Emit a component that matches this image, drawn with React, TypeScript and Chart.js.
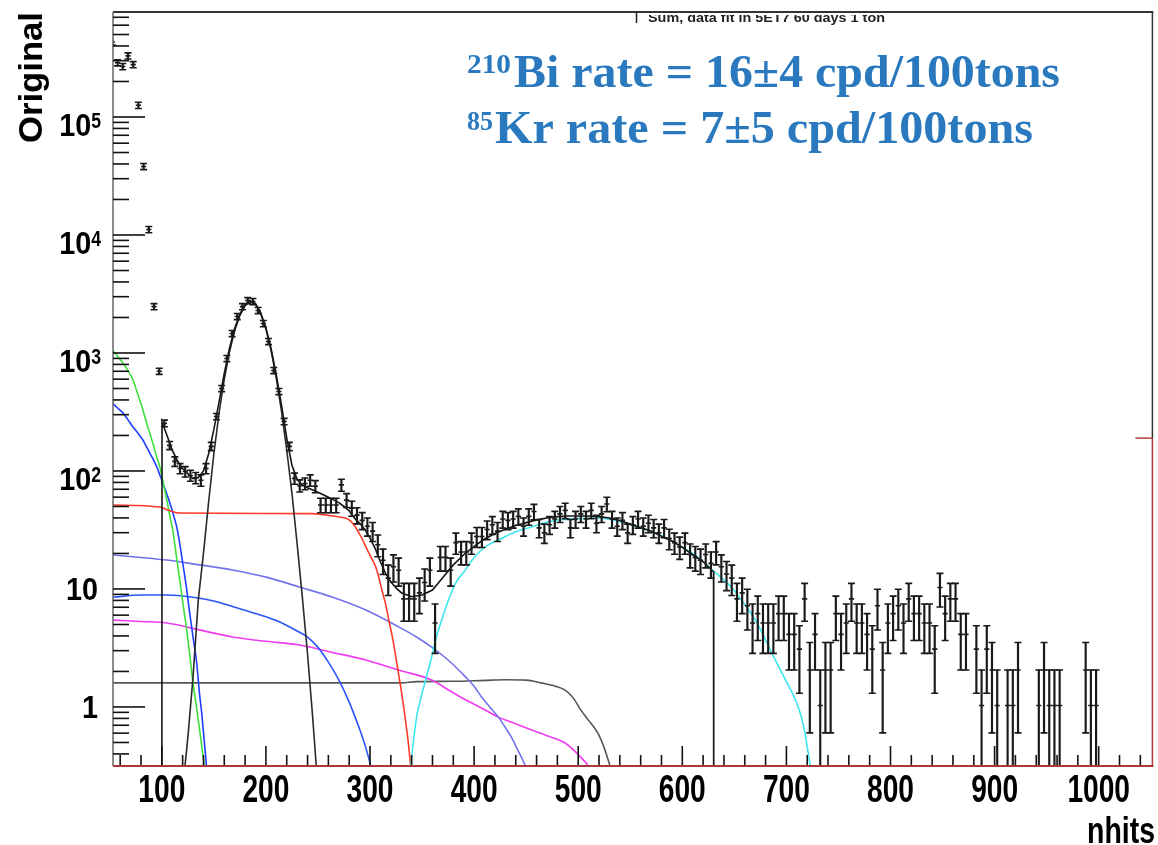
import React, { useEffect, useRef } from 'react';
import { Chart, registerables } from 'chart.js';

Chart.register(...registerables);

const W = 1158;
const H = 845;

// axis ranges
const X_MIN = 53.1;
const X_MAX = 1051.6;
const Y_MIN = 0.316;
const Y_MAX = 7.76e5;

// histogram binning (nhits)
const BIN_LOW = 50;
const BIN_WIDTH = 5;
const SCALE = 1.03;

// counts per 5-nhit bin, starting at 50
const counts: number[] = [
  420000, 280000, 260000, 320000, 270000, 122000, 37000, 10800, 2400, 680,
  246, 160, 117, 102, 96, 89, 85, 81, 102, 157,
  281, 486, 872, 1420, 1980, 2400, 2700, 2650, 2225, 1725,
  1215, 690, 458, 255, 157, 84, 73, 76, 81, 72,
  50, 50, 50, 50, 74, 55, 47, 41, 37, 33,
  30, 23, 17, 12, 15, 14, 8, 8, 8, 9,
  11, 14, 5, 18, 18, 14, 24, 20, 20, 24,
  27, 27, 31, 34, 30, 38, 37, 38, 40, 33,
  40, 44, 32, 29, 34, 38, 42, 45, 32, 38,
  42, 38, 45, 35, 42, 51, 38, 33, 37, 29,
  34, 38, 33, 35, 32, 29, 32, 26, 24, 22,
  24, 19, 18, 17, 19, 16, 20, 15, 13, 12,
  8, 9, 7, 5, 6, 5, 5, 5, 6, 6,
  4, 4, 3, 8, 2, 4, 1, 2, 2, 6,
  4, 5, 8, 5, 5, 4, 3, 7, 2, 5,
  6, 7, 5, 8, 6, 6, 5, 5, 3, 10,
  6, 8, 8, 4, 4, 0, 3, 1, 3, 2,
  1, 0, 1, 1, 2, 0, 0, 0, 1, 2,
  1, 1, 1, 0, 0, 0, 0, 2, 1, 1,
  0, 0, 0, 0, 0, 0, 0, 0, 0, 0,
];

// fit components [nhits, value]
const totalFit: [number, number][] = [
  [100, 0.05], [100.2, 260], [105, 200], [110, 150], [115, 122], [120, 105], [125, 95], [130, 86], [135, 88],
  [140, 100], [145, 140], [150, 225], [155, 385], [160, 670], [165, 1100], [170, 1620], [175, 2140],
  [180, 2570], [185, 2760], [190, 2620], [195, 2190], [200, 1630], [205, 1080], [210, 650], [215, 360],
  [220, 190], [225, 112], [230, 85], [235, 76], [240, 72], [250, 66], [260, 60], [270, 54], [275, 50],
  [280, 46], [285, 40], [290, 36], [295, 32], [300, 27], [305, 22], [310, 17], [315, 13.5], [320, 11.5],
  [325, 10.2], [330, 9.3], [340, 8.6], [350, 8.9], [360, 9.8], [370, 12.5], [380, 16], [390, 19.5],
  [400, 23], [410, 26.5], [420, 29.5], [430, 32], [440, 34.5], [450, 36.5], [460, 38.5], [470, 40],
  [480, 41], [490, 41.5], [500, 41.5], [510, 41.5], [520, 41], [530, 40], [540, 38], [550, 35.5],
  [560, 33], [570, 31], [580, 28], [590, 25.5], [600, 22.5], [610, 19.5], [620, 17], [630, 14], [630.2, 0.05],
];
const poPeak: [number, number][] = [
  [118, 0.1], [122, 0.3], [125, 0.55], [130, 1.8], [135, 8], [140, 20], [145, 55], [150, 140], [155, 310],
  [160, 600], [165, 1020], [170, 1550], [175, 2080], [180, 2520], [185, 2720], [190, 2580], [195, 2150],
  [200, 1600], [205, 1050], [210, 610], [215, 320], [220, 150], [225, 65], [230, 24], [235, 8.5],
  [240, 2.8], [245, 0.8], [250, 0.2],
];
const greenCurve: [number, number][] = [
  [52.5, 1060], [57, 950], [62.7, 821], [67, 720], [72.3, 591], [77, 445], [81.8, 329], [86, 245],
  [91.4, 172], [95, 132], [98.1, 108], [101, 82], [104.8, 56.8], [108, 40], [110.5, 31.6], [114, 19],
  [117.2, 11.9], [120.5, 7.3], [123.9, 4.5], [127, 2.7], [129.6, 1.69], [133, 1.04], [136.3, 0.64],
  [139, 0.42], [141.1, 0.31], [143, 0.22],
];
const blueSteep: [number, number][] = [
  [52.5, 376], [57, 345], [62.7, 310], [67, 275], [72.3, 236], [77, 210], [81.8, 183], [85, 162],
  [88.5, 142], [92, 124], [95.2, 108], [98, 93], [101, 79], [104.5, 65], [107.7, 53.5], [111, 43],
  [114.3, 33.6], [117, 25], [120.1, 16.6], [123.5, 10.5], [126.8, 6.25], [130, 3.9], [133.5, 2.36],
  [136, 1.35], [138.3, 0.89], [140.7, 0.52], [143, 0.31], [145, 0.2],
];
const redCurve: [number, number][] = [
  [52.5, 51.5], [98, 49.5], [105, 47], [117, 44], [244, 43.5], [265, 41.5], [272, 40.5], [276, 40],
  [280, 38.5], [285, 34.5], [289.3, 29.8], [293, 26], [296, 22.7], [301, 18.5], [305.6, 15.3],
  [308.5, 12.5], [311.4, 9.8], [315, 7.4], [318.1, 5.45], [321.5, 3.9], [324.8, 2.65], [327.2, 1.95],
  [329.5, 1.48], [332, 1.05], [334.4, 0.73], [337, 0.48], [339.1, 0.31], [341, 0.2],
];
const lavenderCurve: [number, number][] = [
  [52.5, 19.4], [80, 18.5], [104.8, 17.6], [136.3, 16], [167.9, 14.5], [200.4, 12.6], [232, 10.4],
  [263.5, 8.55], [296, 6.63], [327.6, 4.77], [345, 3.9], [359.2, 3.22], [375, 2.5], [391.7, 1.8],
  [400, 1.5], [407, 1.22], [415, 1.0], [423.3, 0.82], [430, 0.67], [435.7, 0.557], [442, 0.43],
  [449, 0.32], [453, 0.25],
];
const blueFlat: [number, number][] = [
  [52.5, 8.5], [80, 8.9], [105, 8.9], [130, 8.5], [150, 7.9], [170, 7.0], [190, 6.2], [210, 5.4],
  [230, 4.4], [240, 3.9], [250, 3.2], [260, 2.4], [270, 1.7], [280, 1.1], [285, 0.85], [290, 0.65],
  [296, 0.45], [301, 0.31], [304, 0.24],
];
const magentaCurve: [number, number][] = [
  [52.5, 5.45], [80, 5.3], [104.8, 5.15], [136, 4.5], [167.9, 3.92], [200, 3.6], [232, 3.35], [264, 2.9],
  [296, 2.5], [328, 2.05], [359.2, 1.69], [375, 1.4], [391.7, 1.15], [407, 0.98], [423.3, 0.82],
  [440, 0.72], [454.8, 0.64], [470, 0.57], [487.4, 0.495], [497, 0.42], [503, 0.37], [509.4, 0.32],
  [513, 0.28],
];
const grayCurve: [number, number][] = [
  [52.5, 1.6], [300, 1.6], [330, 1.6], [345, 1.64], [380, 1.65], [410, 1.68], [430, 1.7], [450, 1.69],
  [464.4, 1.6], [478, 1.5], [487.4, 1.39], [495, 1.2], [502.6, 0.94], [510, 0.77], [518.9, 0.6],
  [525, 0.45], [530.4, 0.32], [533, 0.27],
];
const cyanCurve: [number, number][] = [
  [338, 0.25], [341, 0.45], [345, 0.85], [349, 1.2], [353.4, 1.69], [359.2, 2.65], [363, 3.7], [369, 5.5],
  [375.5, 8.1], [383, 11.5], [391.7, 14.5], [399, 18], [407, 21.4], [415, 24], [423.3, 26], [440, 30.5],
  [454.8, 33.5], [467, 36.2], [480.6, 38.4], [500, 39.6], [518.9, 40], [530, 39], [544.7, 36.3],
  [560, 33], [570, 30.8], [583, 27.5], [600, 22.6], [614.5, 18.7], [630, 14.2], [646, 10.6], [660, 7.4],
  [671.8, 5.15], [678.6, 3.9], [688, 2.65], [700.6, 1.6], [710, 1.08], [716, 0.72], [722.4, 0.335],
  [725, 0.22],
];

// axis ticks
const X_LABELS = [100, 200, 300, 400, 500, 600, 700, 800, 900, 1000];
const X_MINOR_STEP = 20;
const Y_DECADES = [0.1, 1, 10, 100, 1000, 10000, 100000];
const Y_LABELS: { v: number; base: string; exp: string }[] = [
  { v: 1, base: '1', exp: '' },
  { v: 10, base: '10', exp: '' },
  { v: 100, base: '10', exp: '2' },
  { v: 1000, base: '10', exp: '3' },
  { v: 10000, base: '10', exp: '4' },
  { v: 100000, base: '10', exp: '5' },
];

const BLUE_TEXT = '#2a79bf';
const SANS = '"Liberation Sans", Arial, sans-serif';
const SERIF = '"Liberation Serif", "Times New Roman", serif';

function drawScaled(
  ctx: CanvasRenderingContext2D,
  text: string,
  x: number,
  y: number,
  font: string,
  sx: number,
  align: 'left' | 'center' | 'right',
) {
  ctx.save();
  ctx.font = font;
  const w = ctx.measureText(text).width * sx;
  const x0 = align === 'center' ? x - w / 2 : align === 'right' ? x - w : x;
  ctx.translate(x0, y);
  ctx.scale(sx, 1);
  ctx.textAlign = 'left';
  ctx.textBaseline = 'alphabetic';
  ctx.fillText(text, 0, 0);
  ctx.restore();
  return w;
}

function drawFitted(
  ctx: CanvasRenderingContext2D,
  text: string,
  x0: number,
  x1: number,
  y: number,
  font: string,
) {
  ctx.save();
  ctx.font = font;
  const w = ctx.measureText(text).width;
  const sx = (x1 - x0) / w;
  ctx.translate(x0, y);
  ctx.scale(sx, 1);
  ctx.textAlign = 'left';
  ctx.textBaseline = 'alphabetic';
  ctx.fillText(text, 0, 0);
  ctx.restore();
}

function line(ctx: CanvasRenderingContext2D, x1: number, y1: number, x2: number, y2: number) {
  ctx.beginPath();
  ctx.moveTo(x1, y1);
  ctx.lineTo(x2, y2);
  ctx.stroke();
}

const decorPlugin = {
  id: 'rootDecor',
  afterDraw(chart: any) {
    const ctx: CanvasRenderingContext2D = chart.ctx;
    const { left, right, top, bottom } = chart.chartArea;
    const xs = chart.scales.x;
    const ys = chart.scales.y;
    ctx.save();

    // frame
    ctx.lineCap = 'butt';
    ctx.strokeStyle = '#333';
    ctx.lineWidth = 2;
    line(ctx, left, top, right + 1, top);
    ctx.strokeStyle = '#666';
    ctx.lineWidth = 1.5;
    line(ctx, left, top, left, bottom);
    const yRed = ys.getPixelForValue(190);
    ctx.strokeStyle = '#333';
    ctx.lineWidth = 1.5;
    line(ctx, right, top, right, yRed);
    ctx.strokeStyle = '#b23a3a';
    line(ctx, right, yRed, right, bottom);
    line(ctx, right - 17, yRed, right, yRed);

    // y ticks (inside)
    ctx.strokeStyle = '#111';
    ctx.lineWidth = 1.6;
    for (const d of Y_DECADES) {
      for (let m = 1; m <= 9; m++) {
        const v = m * d;
        if (v < Y_MIN || v > Y_MAX) continue;
        const y = ys.getPixelForValue(v);
        line(ctx, left, y, left + (m === 1 ? 32 : 16), y);
      }
    }
    // x ticks (inside)
    for (let v = 60; v < X_MAX; v += X_MINOR_STEP) {
      const x = xs.getPixelForValue(v);
      const major = v % 100 === 0;
      line(ctx, x, bottom, x, bottom - (major ? 20 : 11));
    }
    // bottom axis line
    ctx.strokeStyle = '#a8383a';
    ctx.lineWidth = 2;
    line(ctx, left, bottom, right + 1, bottom);

    // tick labels
    ctx.fillStyle = '#000';
    for (const v of X_LABELS) {
      drawScaled(ctx, String(v), xs.getPixelForValue(v), 802, `bold 38px ${SANS}`, 0.74, 'center');
    }
    for (const t of Y_LABELS) {
      const y = ys.getPixelForValue(t.v);
      if (!t.exp) {
        drawScaled(ctx, t.base, 98, y + 11, `bold 31px ${SANS}`, 0.93, 'right');
      } else {
        ctx.font = `bold 22px ${SANS}`;
        const ew = ctx.measureText(t.exp).width * 0.8;
        ctx.font = `bold 31px ${SANS}`;
        const bw = ctx.measureText(t.base).width * 0.93;
        const x0 = 101 - ew - bw;
        drawScaled(ctx, t.base, x0, y + 19, `bold 31px ${SANS}`, 0.93, 'left');
        drawScaled(ctx, t.exp, x0 + bw, y + 11, `bold 22px ${SANS}`, 0.8, 'left');
      }
    }

    // axis titles
    drawFitted(ctx, 'nhits', 1087, 1155, 843, `bold 37px ${SANS}`);
    ctx.save();
    ctx.translate(42, 143);
    ctx.rotate(-Math.PI / 2);
    drawFitted(ctx, 'Original', 0, 131, 0, `bold 33px ${SANS}`);
    ctx.restore();

    // clipped stat-box title at top
    ctx.save();
    ctx.beginPath();
    ctx.rect(600, top + 3, 400, 20);
    ctx.clip();
    ctx.fillStyle = '#222';
    drawFitted(ctx, 'Sum, data fit in 5ET7 60 days 1 ton', 648, 885, 22, `bold 13px ${SANS}`);
    ctx.restore();
    ctx.strokeStyle = '#222';
    ctx.lineWidth = 1.5;
    line(ctx, 636.5, top, 636.5, top + 11);

    // annotations
    ctx.fillStyle = BLUE_TEXT;
    drawFitted(ctx, '210', 467, 511, 73, `bold 28px ${SERIF}`);
    drawFitted(ctx, 'Bi rate = 16\u00b14 cpd/100tons', 514, 1060, 87, `bold 46px ${SERIF}`);
    drawFitted(ctx, '85', 467, 493, 130, `bold 28px ${SERIF}`);
    drawFitted(ctx, 'Kr rate = 7\u00b15 cpd/100tons', 495, 1033, 143, `bold 46px ${SERIF}`);

    ctx.restore();
  },
};

function curveDataset(pts: [number, number][], color: string, order: number, smooth = true) {
  return {
    type: 'line' as const,
    data: pts.map(([x, y]) => ({ x, y })),
    borderColor: color,
    borderWidth: 1.6,
    pointRadius: 0,
    pointHoverRadius: 0,
    fill: false,
    tension: 0,
    cubicInterpolationMode: smooth ? ('monotone' as const) : ('default' as const),
    order,
  };
}

export default function App() {
  const ref = useRef<HTMLCanvasElement>(null);

  useEffect(() => {
    const canvas = ref.current;
    if (!canvas) return;

    const centers = counts.map((_, i) => BIN_LOW + BIN_WIDTH * (i + 0.5));
    const filled = counts
      .map((n, i) => ({ x: centers[i], n }))
      .filter((p) => p.n > 0);
    const stat = filled.map((p) => {
      const v = p.n * SCALE;
      const e = Math.max(Math.sqrt(SCALE * v), 0.06 * v);
      return { x: p.x, v, lo: v - e, hi: v + e };
    });
    const barData = stat.map((s) => ({ x: s.x, y: [Math.max(s.lo, 0.01), s.hi] }));
    const capData: { x: number; y: number }[] = [];
    stat.forEach((s) => {
      capData.push({ x: s.x, y: s.hi });
      if (s.lo > 0.05) capData.push({ x: s.x, y: s.lo });
    });
    const centerData = stat.map((s) => ({ x: s.x, y: s.v }));

    const chart = new Chart(canvas, {
      type: 'line',
      data: {
        datasets: [
          {
            type: 'bar',
            data: barData as any,
            backgroundColor: '#1a1a1a',
            borderWidth: 0,
            barThickness: 1.5,
            order: 0,
          } as any,
          {
            type: 'line',
            data: capData,
            showLine: false,
            pointStyle: 'line',
            pointRadius: 3.5,
            pointBorderWidth: 1.6,
            pointBorderColor: '#1a1a1a',
            pointBackgroundColor: '#1a1a1a',
            order: 1,
          } as any,
          {
            type: 'line',
            data: centerData,
            showLine: false,
            pointStyle: 'line',
            pointRadius: 2.6,
            pointBorderWidth: 1.6,
            pointBorderColor: '#1a1a1a',
            pointBackgroundColor: '#1a1a1a',
            order: 2,
          } as any,
          curveDataset(totalFit, '#151515', 3, false),
          curveDataset(poPeak, '#2a2a2a', 4, false),
          curveDataset(cyanCurve, '#3ee6ee', 5),
          curveDataset(redCurve, '#ff3a2a', 6),
          curveDataset(greenCurve, '#3ee03e', 7),
          curveDataset(blueSteep, '#1f3dff', 8),
          curveDataset(blueFlat, '#2b55f5', 9),
          curveDataset(lavenderCurve, '#7272ec', 10),
          curveDataset(magentaCurve, '#f03cf0', 11),
          curveDataset(grayCurve, '#555555', 12),
        ] as any,
      },
      options: {
        responsive: false,
        animation: false,
        devicePixelRatio: 1,
        events: [],
        layout: { padding: { left: 113, top: 12, right: 1, bottom: 79 } },
        scales: {
          x: { type: 'linear', min: X_MIN, max: X_MAX, display: false, bounds: 'data', offset: false, grid: { offset: false } },
          y: { type: 'logarithmic', min: Y_MIN, max: Y_MAX, display: false, bounds: 'data' },
        },
        plugins: {
          legend: { display: false },
          tooltip: { enabled: false },
        },
      } as any,
      plugins: [decorPlugin],
    });

    return () => chart.destroy();
  }, []);

  return (
    <div style={{ position: 'fixed', left: 0, top: 0, width: W, height: H, background: '#fff' }}>
      <canvas ref={ref} width={W} height={H} style={{ display: 'block', width: W, height: H }} />
    </div>
  );
}
